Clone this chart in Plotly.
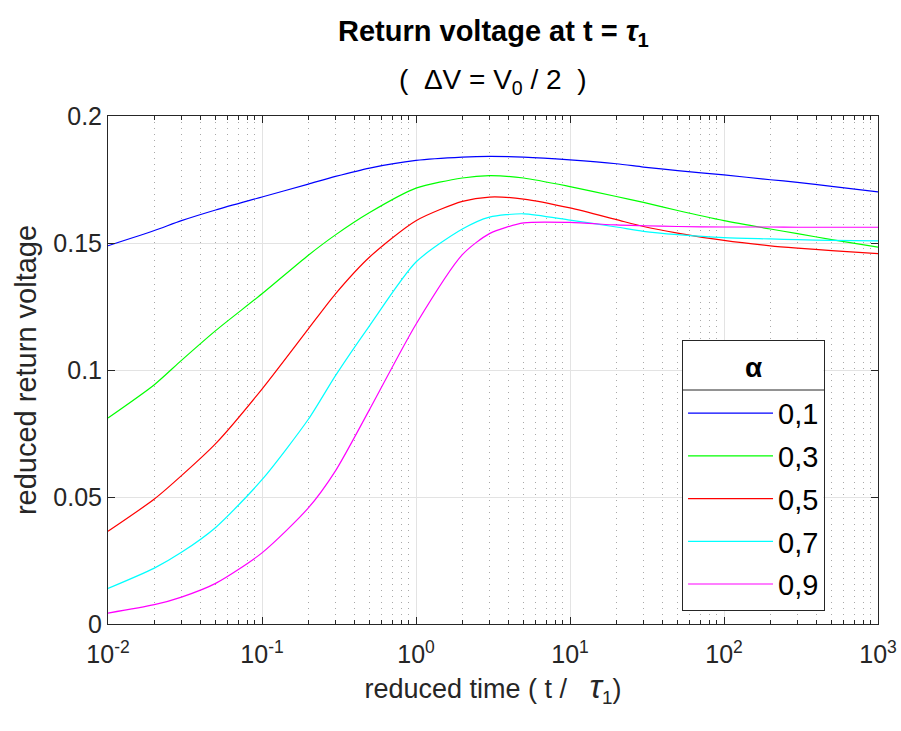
import plotly.graph_objects as go

# reduced time t / tau1
t = [0.01, 0.02, 0.03, 0.05, 0.1, 0.2, 0.3, 0.5, 1, 2, 3, 5, 10, 20, 30, 50, 100, 200, 300, 500, 1000]

alpha_labels = ["0,1", "0,3", "0,5", "0,7", "0,9"]

v_a01 = [0.1489, 0.1549, 0.1588, 0.1630, 0.1681, 0.1732, 0.1762, 0.1795, 0.1825, 0.1838, 0.1841,
         0.1838, 0.1827, 0.1812, 0.1799, 0.1785, 0.1768, 0.1749, 0.1739, 0.1723, 0.1701]
v_a03 = [0.0811, 0.0942, 0.1038, 0.1155, 0.1300, 0.1452, 0.1532, 0.1620, 0.1716, 0.1756, 0.1765,
         0.1756, 0.1722, 0.1683, 0.1660, 0.1628, 0.1588, 0.1555, 0.1537, 0.1513, 0.1484]
v_a05 = [0.0365, 0.0492, 0.0584, 0.0710, 0.0925, 0.1162, 0.1300, 0.1445, 0.1588, 0.1664, 0.1681,
         0.1673, 0.1638, 0.1592, 0.1565, 0.1539, 0.1510, 0.1489, 0.1480, 0.1470, 0.1458]
v_a07 = [0.0140, 0.0220, 0.0282, 0.0380, 0.0568, 0.0806, 0.0978, 0.1175, 0.1425, 0.1555, 0.1602,
         0.1615, 0.1590, 0.1563, 0.1546, 0.1533, 0.1521, 0.1516, 0.1513, 0.1510, 0.1508]
v_a09 = [0.0043, 0.0076, 0.0106, 0.0160, 0.0280, 0.0457, 0.0603, 0.0845, 0.1180, 0.1454, 0.1537,
         0.1579, 0.1581, 0.1571, 0.1568, 0.1565, 0.1563, 0.1563, 0.1562, 0.1562, 0.1562]

series = [v_a01, v_a03, v_a05, v_a07, v_a09]
colors = ["#0000FF", "#00FF00", "#FF0000", "#00FFFF", "#FF00FF"]

x_tickvals = [0.01, 0.1, 1, 10, 100, 1000]
x_ticktext = ["10<sup>-2</sup>", "10<sup>-1</sup>", "10<sup>0</sup>",
              "10<sup>1</sup>", "10<sup>2</sup>", "10<sup>3</sup>"]
y_tickvals = [0, 0.05, 0.1, 0.15, 0.2]
y_ticktext = ["0", "0.05", "0.1", "0.15", "0.2"]

FONT = "Liberation Sans, Arial, Helvetica, sans-serif"
AX = "#262626"
NB = "\u00a0"

fig = go.Figure()
for lab, ys, col in zip(alpha_labels, series, colors):
    fig.add_trace(go.Scatter(
        x=t, y=ys, mode="lines", name=lab, legendgroup=lab,
        line=dict(color=col, width=1.2, shape="spline", smoothing=0.7),
    ))

fig.update_layout(
    width=901, height=731,
    margin=dict(l=108, r=23, t=116, b=107),
    paper_bgcolor="white", plot_bgcolor="white",
    font=dict(family=FONT, size=25, color=AX),
    showlegend=True,
    legend=dict(
        x=0.7455, y=0.559, xanchor="left", yanchor="top",
        bgcolor="rgba(255,255,255,0)", bordercolor=AX, borderwidth=1,
        font=dict(size=29, color="black"),
        # blank title reserves the header band; the α itself is an annotation
        title=dict(text=NB, side="top center", font=dict(size=36, color="white")),
        itemwidth=85, tracegroupgap=2, traceorder="grouped",
    ),
    annotations=[
        dict(text="<b>Return voltage at t = <i>τ</i><sub>1</sub></b>", xref="paper", yref="paper",
             x=0.5, y=1.0, yshift=83, xanchor="center", yanchor="middle", showarrow=False,
             font=dict(size=29, color="black")),
        dict(text=f"({NB}{NB}ΔV = V<sub>0</sub> / 2{NB}{NB})", xref="paper", yref="paper",
             x=0.5, y=1.0, yshift=35, xanchor="center", yanchor="middle", showarrow=False,
             font=dict(size=28, color="black")),
        dict(text="<b>α</b>", xref="paper", yref="paper",
             x=0.8385, y=0.504, xanchor="center", yanchor="middle", showarrow=False,
             font=dict(size=28, color="black")),
    ],
)

# white legend panel (hides the grid) and the line under the legend title
fig.add_shape(type="rect", xref="paper", yref="paper", layer="above",
              x0=0.7465, x1=0.929, y0=0.026, y1=0.557,
              fillcolor="white", line=dict(width=0))
fig.add_shape(type="line", xref="paper", yref="paper", layer="above",
              x0=0.7455, x1=0.930, y0=0.4606, y1=0.4606,
              line=dict(color=AX, width=1))

fig.update_xaxes(
    type="log", range=[-2, 3], tickvals=x_tickvals, ticktext=x_ticktext, automargin=False,
    showline=True, linecolor=AX, linewidth=1, mirror="ticks",
    ticks="inside", ticklen=7, tickcolor=AX, ticklabelstandoff=8,
    showgrid=True, gridcolor="#e3e3e3", gridwidth=1, zeroline=False,
    tickfont=dict(size=25, color=AX),
    minor=dict(dtick="D1", ticks="inside", ticklen=4, tickcolor=AX,
               showgrid=True, gridcolor="#a8a8a8", griddash="1px,5px", gridwidth=1),
    title=dict(text=f"reduced time ({NB}t /{NB}{NB}{NB}<i><span style='font-size:33px'>τ</span></i><sub>1</sub>)",
               font=dict(size=27, color=AX), standoff=12),
)
fig.update_yaxes(
    range=[0, 0.2], tickvals=y_tickvals, ticktext=y_ticktext, automargin=False,
    showline=True, linecolor=AX, linewidth=1, mirror="ticks",
    ticks="inside", ticklen=7, tickcolor=AX,
    showgrid=True, gridcolor="#e3e3e3", gridwidth=1, zeroline=False,
    tickfont=dict(size=25, color=AX),
    title=dict(text="reduced return voltage", font=dict(size=29, color=AX), standoff=8),
)

fig.write_html("out.html",
               config={"displayModeBar": False},
               post_script="document.body.style.margin='0px';"
                           "document.documentElement.style.overflow='hidden';")
